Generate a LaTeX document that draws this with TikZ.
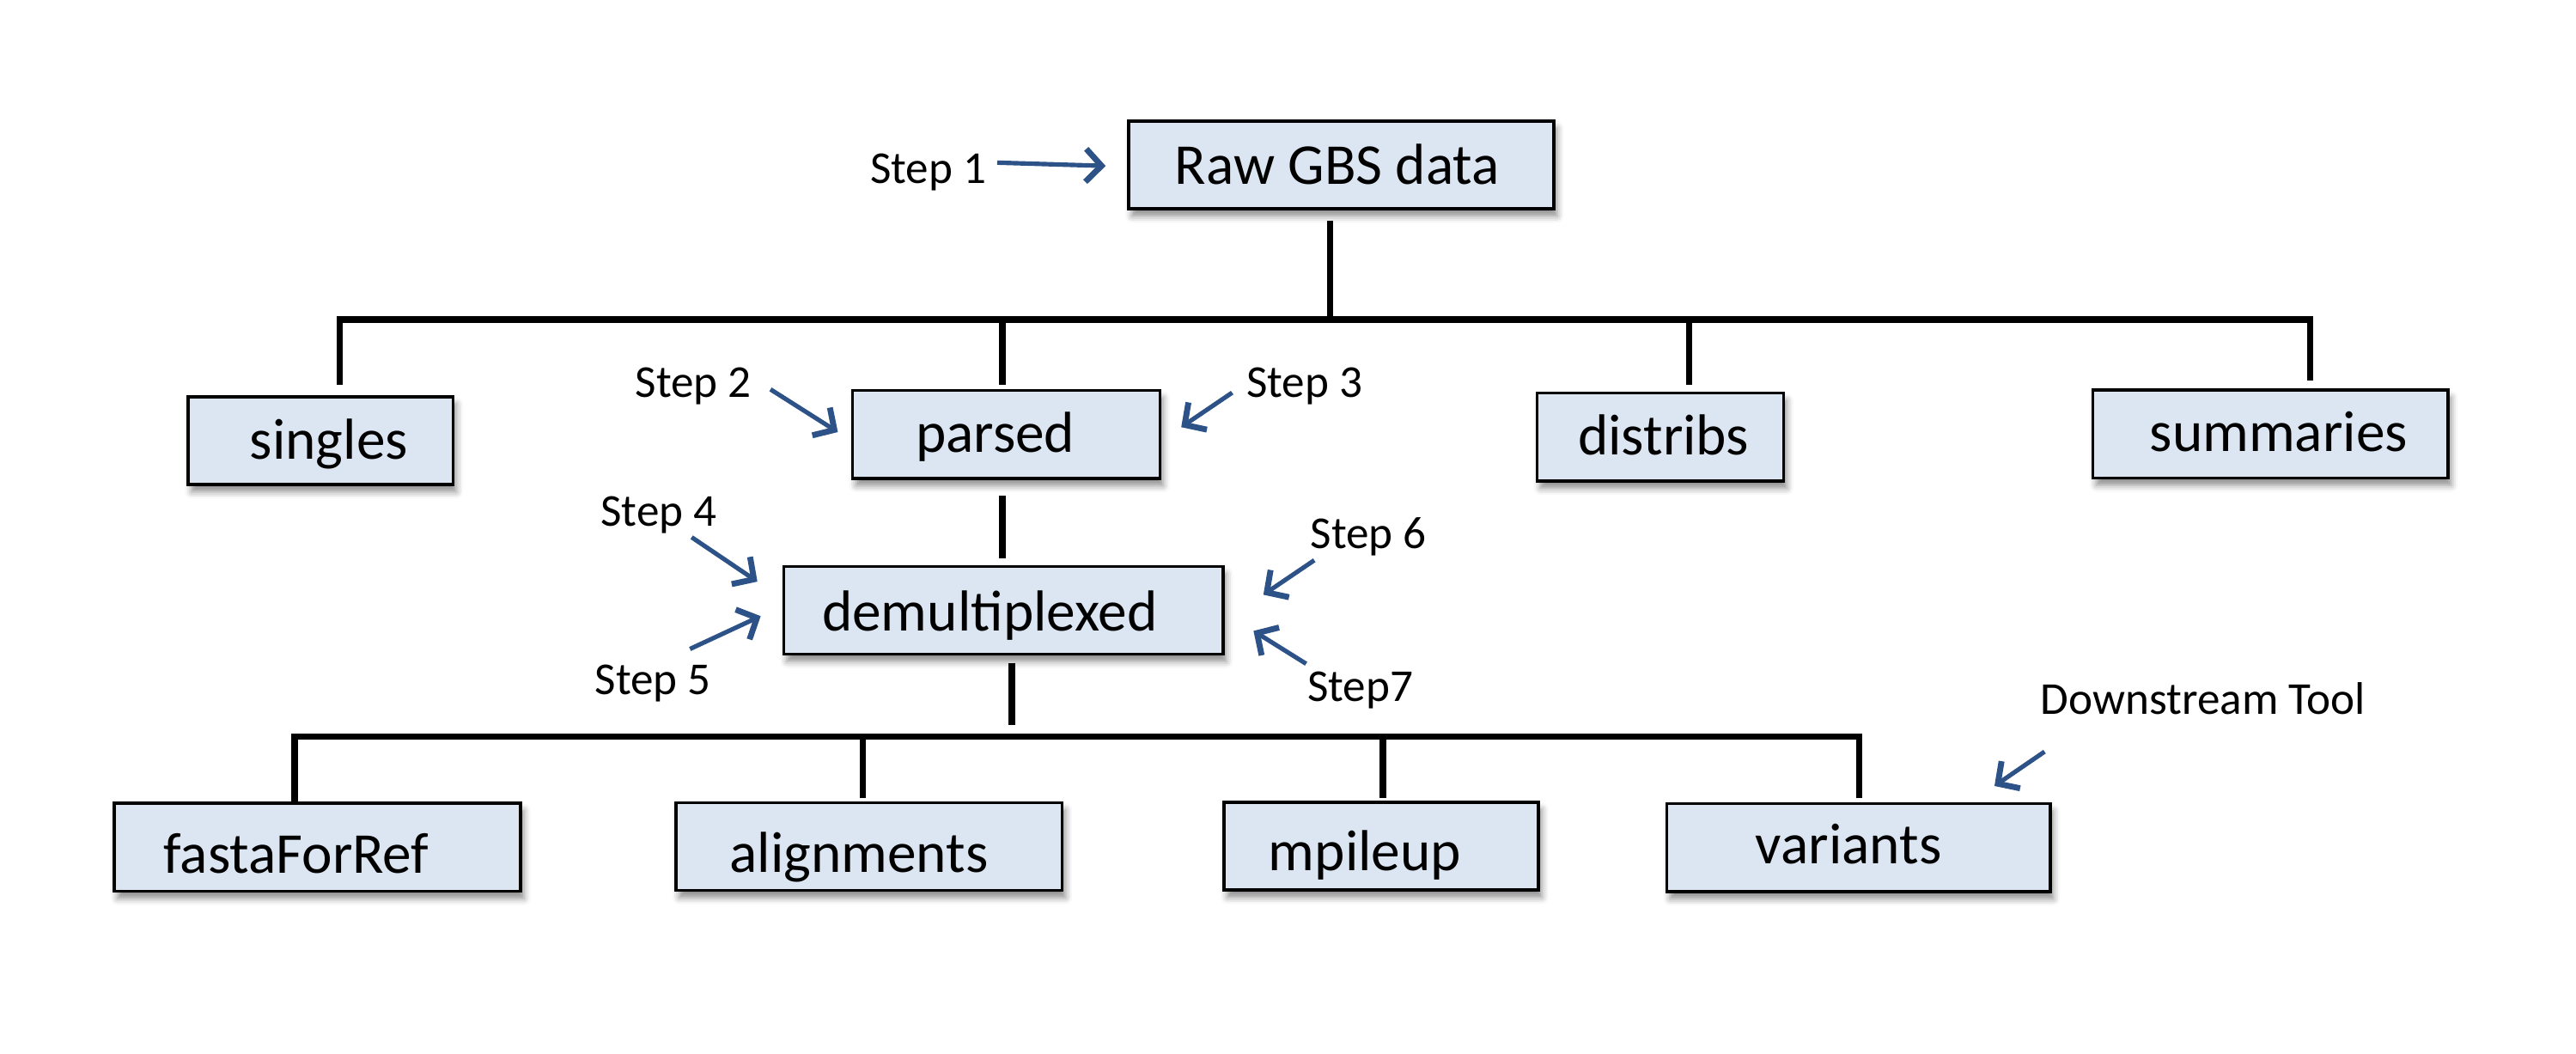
\documentclass[tikz,border=0pt]{standalone}
\usepackage{fontspec}
\setmainfont{Carlito}
\usetikzlibrary{arrows.meta,shadows.blur,calc}
\definecolor{boxfill}{RGB}{220,230,242}
\definecolor{arrowblue}{RGB}{44,82,135}
\tikzset{
  box/.style={draw=black, line width=0.9pt, fill=boxfill, minimum height=26.75pt, inner sep=0pt,
    blur shadow={shadow xshift=1pt, shadow yshift=-2.2pt, shadow blur radius=2pt, shadow opacity=45}},
  boxtext/.style={font=\fontsize{17.6}{20}\selectfont, anchor=base, inner sep=0pt},
  steplabel/.style={font=\fontsize{13.9}{16}\selectfont, anchor=base, inner sep=0pt},
  tree/.style={line width=1.9pt, line cap=butt, line join=miter},
  steparrow/.style={draw=arrowblue, line width=1.35pt,
    -{Straight Barb[length=4.8pt, width=10pt, line width=1.8pt]}}
}
\begin{document}
\begin{tikzpicture}[x=0.5pt, y=-0.5pt]
\useasboundingbox (0,0) rectangle (1568,641.5);

% boxes
\node[box, minimum width=129.4pt] (raw)   at (816.4,100.4) {};
\node[box, minimum width=80.6pt]  (sing)  at (195.2,268.2) {};
\node[box, minimum width=93.5pt]  (pars)  at (612.5,264.5) {};
\node[box, minimum width=75pt]    (dist)  at (1010.6,266) {};
\node[box, minimum width=108pt]   (summ)  at (1382,264.2) {};
\node[box, minimum width=133.7pt] (demux) at (610.7,371.5) {};
\node[box, minimum width=123.7pt] (fasta) at (193.2,515.7) {};
\node[box, minimum width=117.6pt] (align) at (529,515.2) {};
\node[box, minimum width=95.7pt]  (mpil)  at (840.8,515) {};
\node[box, minimum width=116.7pt] (vari)  at (1131.2,516) {};

% box texts
\node[boxtext] (rawT)   at ($(raw.center)+(-2.4,12)$)    {Raw GBS data};
\node[boxtext] (singT)  at ($(sing.center)+(5,11)$)      {singles};
\node[boxtext] (parsT)  at ($(pars.center)+(-6.7,11)$)   {parsed};
\node[boxtext] (distT)  at ($(dist.center)+(2,11)$)      {distribs};
\node[boxtext] (summT)  at ($(summ.center)+(5,10.3)$)    {summaries};
\node[boxtext] (demuxT) at ($(demux.center)+(-8.2,12.3)$) {demultiplexed};
\node[boxtext] (fastaT) at ($(fasta.center)+(-12.8,16)$) {fastaForRef};
\node[boxtext] (alignT) at ($(align.center)+(-6.2,15.5)$) {alignments};
\node[boxtext] (mpilT)  at ($(mpil.center)+(-10,14.8)$)  {mpileup};
\node[boxtext] (variT)  at ($(vari.center)+(-6,9.5)$)    {variants};

% tree connectors
\coordinate (r0) at (809.5,134.2);
\coordinate (r1) at (809.5,194.5);
\coordinate (t0) at (206.9,234);
\coordinate (tl) at (206.9,194.5);
\coordinate (tr) at (1406,194.5);
\coordinate (t3) at (1406,231.6);
\coordinate (p0) at (610.2,194.5);
\coordinate (p1) at (610.2,234.3);
\coordinate (d0) at (1028,194.5);
\coordinate (d1) at (1028,234);
\coordinate (pd0) at (610.2,301.8);
\coordinate (pd1) at (610.2,339.9);
\coordinate (dm0) at (615.9,403.5);
\coordinate (dm1) at (615.9,441.3);
\coordinate (b0) at (179.3,488.5);
\coordinate (bl) at (179.3,448.5);
\coordinate (br) at (1131.5,448.5);
\coordinate (b3) at (1131.5,485.7);
\coordinate (a0) at (525.2,448.5);
\coordinate (a1) at (525.2,485.9);
\coordinate (m0) at (841.8,448.5);
\coordinate (m1) at (841.8,485.7);

\draw[tree] (r0) -- (r1);
\draw[tree] (t0) -- (tl) -- (tr) -- (t3);
\draw[tree] (p0) -- (p1);
\draw[tree] (d0) -- (d1);
\draw[tree] (pd0) -- (pd1);
\draw[tree] (dm0) -- (dm1);
\draw[tree] (b0) -- (bl) -- (br) -- (b3);
\draw[tree] (a0) -- (a1);
\draw[tree] (m0) -- (m1);

% step labels
\node[steplabel] (s1) at (565,111.5) {Step 1};
\node[steplabel] (s2) at (422,241.6) {Step 2};
\node[steplabel] (s3) at (794,241.6) {Step 3};
\node[steplabel] (s4) at (401,320) {Step 4};
\node[steplabel] (s5) at (397.5,422.5) {Step 5};
\node[steplabel] (s6) at (833,333.7) {Step 6};
\node[steplabel] (s7) at (828,427) {Step7};
\node[steplabel] (sd) at (1341,435) {Downstream Tool};

% step arrows
\coordinate (a1s) at (607,99);    \coordinate (a1e) at (673,101);
\coordinate (a2s) at (469,237);   \coordinate (a2e) at (510,263);
\coordinate (a3s) at (750,239);   \coordinate (a3e) at (719,260);
\coordinate (a4s) at (421,327);   \coordinate (a4e) at (461,354);
\coordinate (a5s) at (420,395);   \coordinate (a5e) at (463,375);
\coordinate (a6s) at (800,341);   \coordinate (a6e) at (769,362);
\coordinate (a7s) at (795,404);   \coordinate (a7e) at (763,384);
\coordinate (ads) at (1244.5,457.5); \coordinate (ade) at (1214,478.4);

\draw[steparrow] (a1s) -- (a1e);
\draw[steparrow] (a2s) -- (a2e);
\draw[steparrow] (a3s) -- (a3e);
\draw[steparrow] (a4s) -- (a4e);
\draw[steparrow] (a5s) -- (a5e);
\draw[steparrow] (a6s) -- (a6e);
\draw[steparrow] (a7s) -- (a7e);
\draw[steparrow] (ads) -- (ade);
\end{tikzpicture}
\end{document}
